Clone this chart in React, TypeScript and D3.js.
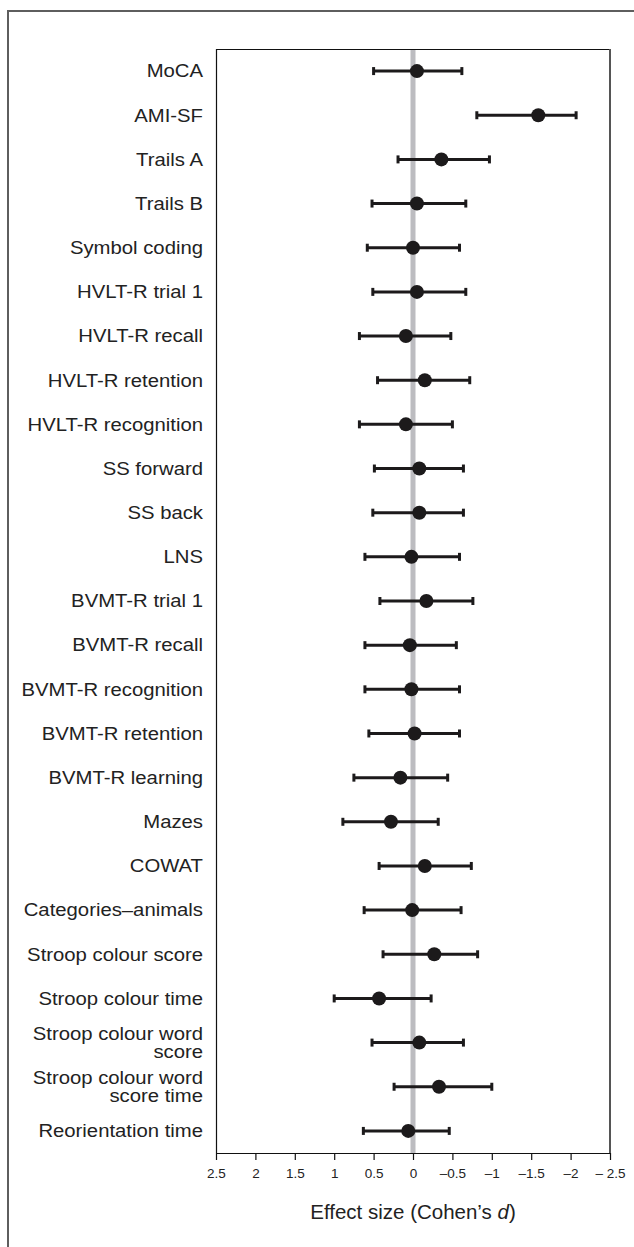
import React, { useEffect, useRef } from 'react';
import * as d3 from 'd3';

// outcomes, top to bottom ("\n" marks a wrapped label)
const categories = [
  'MoCA', 'AMI-SF', 'Trails A', 'Trails B', 'Symbol coding',
  'HVLT-R trial 1', 'HVLT-R recall', 'HVLT-R retention', 'HVLT-R recognition',
  'SS forward', 'SS back', 'LNS', 'BVMT-R trial 1', 'BVMT-R recall',
  'BVMT-R recognition', 'BVMT-R retention', 'BVMT-R learning', 'Mazes', 'COWAT',
  'Categories–animals', 'Stroop colour score', 'Stroop colour time',
  'Stroop colour word\nscore', 'Stroop colour word\nscore time', 'Reorientation time',
];

// Cohen's d point estimates
const effects = [
  -0.05, -1.59, -0.36, -0.05, 0.0, -0.05, 0.09, -0.15, 0.09, -0.08, -0.08, 0.02,
  -0.17, 0.04, 0.02, -0.02, 0.16, 0.28, -0.15, 0.01, -0.27, 0.43, -0.08, -0.33, 0.06,
];

// CI end on the left (positive) side
const ciLeft = [
  0.5, -0.81, 0.19, 0.52, 0.58, 0.51, 0.68, 0.45, 0.68, 0.49, 0.51, 0.61,
  0.42, 0.61, 0.61, 0.56, 0.75, 0.89, 0.43, 0.62, 0.38, 1.0, 0.52, 0.24, 0.63,
];

// CI end on the right (negative) side
const ciRight = [
  -0.62, -2.07, -0.97, -0.67, -0.59, -0.67, -0.48, -0.72, -0.5, -0.64, -0.64, -0.59,
  -0.76, -0.55, -0.59, -0.59, -0.44, -0.32, -0.74, -0.61, -0.82, -0.23, -0.64, -1.0, -0.46,
];

const tickValues = [2.5, 2, 1.5, 1, 0.5, 0, -0.5, -1, -1.5, -2, -2.5];
const tickLabels = ['2.5', '2', '1.5', '1', '0.5', '0', '–0.5', '–1', '–1.5', '–2', '– 2.5'];

const W = 634;
const H = 1247;
const FONT = '"Liberation Sans", Arial, Helvetica, sans-serif';

const ForestPlot = () => {
  const svgRef = useRef<SVGSVGElement>(null);

  useEffect(() => {
    const svg = d3.select(svgRef.current);
    svg.selectAll('*').remove();

    const left = 216, right = 610, top = 49, bottom = 1153;

    const x = d3.scaleLinear().domain([2.5, -2.5]).range([left, right]);
    const y = d3.scaleBand<string>().domain(categories).range([top, bottom]).padding(0);
    const cy = (c: string) => (y(c) ?? 0) + y.bandwidth() / 2;

    const rows = categories.map((c, i) => ({ c, d: effects[i], lo: ciLeft[i], hi: ciRight[i] }));

    // outer frame (cropped at right / bottom)
    svg.append('rect')
      .attr('x', 8).attr('y', 11)
      .attr('width', 700).attr('height', 1400)
      .attr('fill', 'none')
      .attr('stroke', '#5e5e5e')
      .attr('stroke-width', 2);

    // zero reference line
    svg.append('line')
      .attr('x1', x(0)).attr('x2', x(0))
      .attr('y1', top).attr('y2', bottom)
      .attr('stroke', '#bcbcc0')
      .attr('stroke-width', 5);

    // plot box
    svg.append('line')
      .attr('x1', left).attr('x2', right).attr('y1', top + 0.5).attr('y2', top + 0.5)
      .attr('stroke', '#111').attr('stroke-width', 1.2);
    svg.append('line')
      .attr('x1', left + 0.5).attr('x2', left + 0.5).attr('y1', top).attr('y2', bottom)
      .attr('stroke', '#111').attr('stroke-width', 1.2);
    svg.append('line')
      .attr('x1', right).attr('x2', right).attr('y1', top).attr('y2', bottom)
      .attr('stroke', '#555').attr('stroke-width', 2);

    // x axis
    const axis = d3.axisBottom(x)
      .tickValues(tickValues)
      .tickSize(7)
      .tickPadding(8)
      .tickSizeOuter(0)
      .tickFormat((d, i) => tickLabels[i]);

    const ax = svg.append('g')
      .attr('transform', `translate(0,${bottom})`)
      .call(axis);
    ax.select('.domain').attr('stroke', '#111').attr('stroke-width', 1.2);
    ax.selectAll('.tick line').attr('stroke', '#111').attr('stroke-width', 1.2);
    ax.selectAll('.tick text')
      .attr('fill', '#222')
      .style('font-family', FONT)
      .style('font-size', '13.5px');

    // axis title
    const title = svg.append('text')
      .attr('x', x(0))
      .attr('y', 1219)
      .attr('text-anchor', 'middle')
      .attr('fill', '#222')
      .style('font-family', FONT)
      .style('font-size', '20.5px');
    title.append('tspan').text('Effect size (Cohen’s ');
    title.append('tspan').style('font-style', 'italic').text('d');
    title.append('tspan').text(')');

    // row labels
    const labels = svg.append('g');
    rows.forEach(r => {
      const lines = r.c.split('\n');
      const g = labels.append('g')
        .attr('transform', `translate(203,${cy(r.c)}) scale(1.16,1)`);
      lines.forEach((ln, k) => {
        g.append('text')
          .attr('x', 0)
          .attr('y', (k - (lines.length - 1) / 2) * 17.5)
          .attr('dy', '0.36em')
          .attr('text-anchor', 'end')
          .attr('fill', '#222')
          .style('font-family', FONT)
          .style('font-size', '17.5px')
          .text(ln);
      });
    });

    // error bars
    const bars = svg.append('g');
    bars.selectAll('line.ci')
      .data(rows)
      .enter()
      .append('line')
      .attr('class', 'ci')
      .attr('x1', d => x(d.lo)).attr('x2', d => x(d.hi))
      .attr('y1', d => cy(d.c)).attr('y2', d => cy(d.c))
      .attr('stroke', '#1c1a1b')
      .attr('stroke-width', 3);

    ['lo', 'hi'].forEach(k => {
      bars.selectAll(`line.cap-${k}`)
        .data(rows)
        .enter()
        .append('line')
        .attr('class', `cap-${k}`)
        .attr('x1', d => x((d as any)[k])).attr('x2', d => x((d as any)[k]))
        .attr('y1', d => cy(d.c) - 4).attr('y2', d => cy(d.c) + 4)
        .attr('stroke', '#1c1a1b')
        .attr('stroke-width', 3);
    });

    bars.selectAll('circle')
      .data(rows)
      .enter()
      .append('circle')
      .attr('cx', d => x(d.d))
      .attr('cy', d => cy(d.c))
      .attr('r', 7)
      .attr('fill', '#1c1a1b');
  }, []);

  return (
    <svg
      ref={svgRef}
      width={W}
      height={H}
      style={{ position: 'absolute', left: 0, top: 0, background: '#fff' }}
    />
  );
};

export default function App() {
  return <ForestPlot />;
}
